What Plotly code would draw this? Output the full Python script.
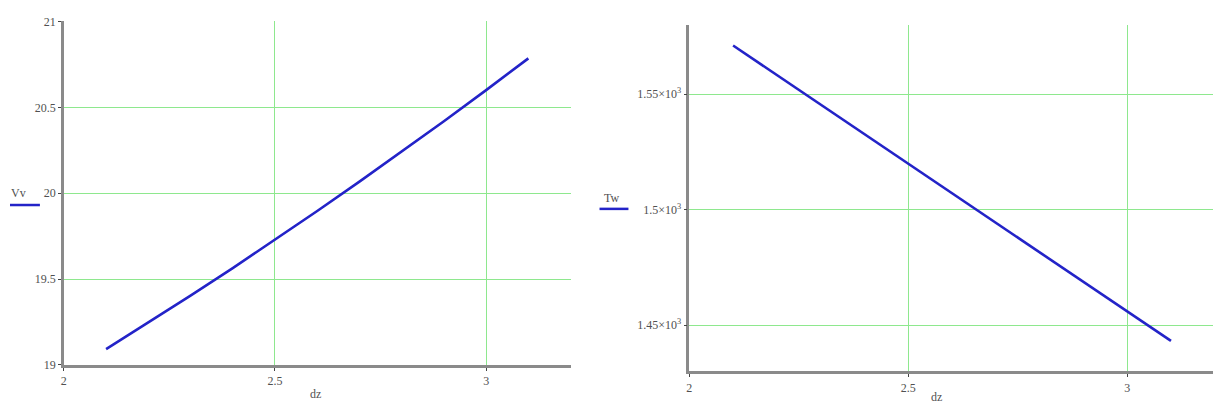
import plotly.graph_objects as go

# Sweep of the gap dz and the two computed responses
dz = [2.1, 2.2, 2.3, 2.4, 2.5, 2.6, 2.7, 2.8, 2.9, 3.0, 3.1]
Vv = [19.092, 19.246, 19.403, 19.564, 19.728, 19.896, 20.067, 20.241, 20.419, 20.600, 20.785]
Tw = [1571.0, 1558.2, 1545.4, 1532.6, 1519.8, 1507.0, 1494.3, 1481.5, 1468.7, 1455.9, 1443.2]

vv_ticks = [19, 19.5, 20, 20.5, 21]
vv_ticktext = ["19", "19.5", "20", "20.5", "21"]
tw_ticks = [1450, 1500, 1550]
tw_ticktext = ["1.45×10<sup>3</sup>", "1.5×10<sup>3</sup>", "1.55×10<sup>3</sup>"]
dz_ticks = [2, 2.5, 3]
dz_ticktext = ["2", "2.5", "3"]

W, H = 1213, 411
LINE = "#2323c8"
GRID = "#8ee88e"
AXIS = "#8a8a8a"
SERIF = "Liberation Serif, Times New Roman, serif"
FONT = dict(family=SERIF, size=12, color="#505050")

fig = go.Figure()
fig.add_trace(go.Scatter(x=dz, y=Vv, mode="lines", line=dict(color=LINE, width=2.6),
                         xaxis="x", yaxis="y", showlegend=False))
fig.add_trace(go.Scatter(x=dz, y=Tw, mode="lines", line=dict(color=LINE, width=2.6),
                         xaxis="x2", yaxis="y2", showlegend=False))

common = dict(showgrid=True, gridcolor=GRID, gridwidth=1.2, showline=True,
              linecolor=AXIS, linewidth=2.5, ticks="outside", ticklen=3,
              tickcolor="#444444", tickfont=FONT, zeroline=False, fixedrange=True)

fig.update_layout(
    width=W, height=H, margin=dict(l=0, r=0, t=0, b=0),
    paper_bgcolor="white", plot_bgcolor="white",
    font=dict(family=SERIF),
    xaxis=dict(domain=[61 / W, 569 / W], range=[2, 3.2], tickmode="array",
               tickvals=dz_ticks, ticktext=dz_ticktext, anchor="y", **common),
    yaxis=dict(domain=[(H - 370.5) / H, (H - 15) / H], range=[19, 21], tickmode="array",
               tickvals=vv_ticks, ticktext=vv_ticktext, anchor="x", **common),
    xaxis2=dict(domain=[688 / W, 1.0], range=[2, 3.196], tickmode="array",
                tickvals=dz_ticks, ticktext=dz_ticktext, anchor="y2", **common),
    yaxis2=dict(domain=[(H - 377.3) / H, (H - 18.3) / H], range=[1430, 1580], tickmode="array",
                tickvals=tw_ticks, ticktext=tw_ticktext, anchor="x2", **common),
)

# Axis titles: variable names with a line sample on the y side, "dz" under each x axis
ann_font = dict(family=SERIF, size=12, color="#505050")
labels = [("Vv", 16, 193), ("Tw", 610, 198), ("dz", 313, 401), ("dz", 936, 404)]
for txt, px, py in labels:
    fig.add_annotation(text=txt, x=px / W, y=(H - py) / H, xref="paper", yref="paper",
                       xanchor="center", yanchor="middle", showarrow=False, font=ann_font)
fig.add_shape(type="line", xref="paper", yref="paper", x0=7 / W, x1=37 / W,
              y0=(H - 205) / H, y1=(H - 205) / H, line=dict(color=LINE, width=2.5))
fig.add_shape(type="line", xref="paper", yref="paper", x0=598 / W, x1=627 / W,
              y0=(H - 209) / H, y1=(H - 209) / H, line=dict(color=LINE, width=2.5))

fig.write_html("out.html")
